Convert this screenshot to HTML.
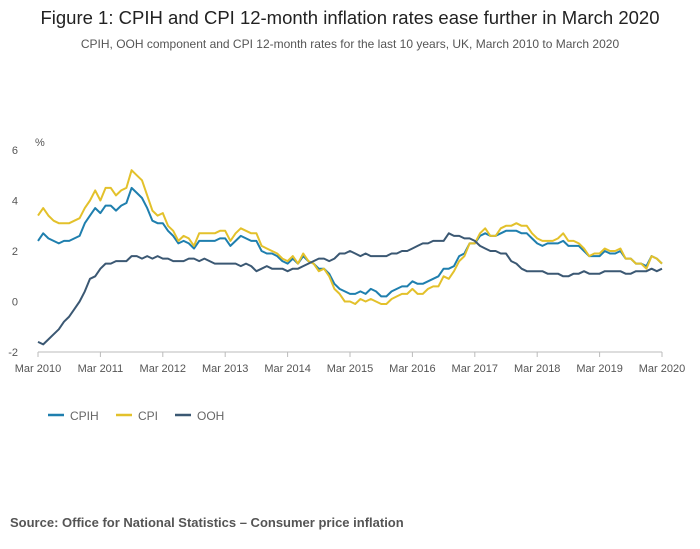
<!DOCTYPE html>
<html><head><meta charset="utf-8"><style>
body{margin:0;background:#fff;font-family:"Liberation Sans",sans-serif;}
#wrap{position:relative;width:700px;height:549px;overflow:hidden;}
</style></head><body>
<div id="wrap">
<svg id="chart" width="700" height="549">
<text x="350" y="24" text-anchor="middle" font-size="18.5" fill="#222">Figure 1: CPIH and CPI 12-month inflation rates ease further in March 2020</text>
<text x="350" y="48" text-anchor="middle" font-size="12" fill="#555">CPIH, OOH component and CPI 12-month rates for the last 10 years, UK, March 2010 to March 2020</text>
<text x="35" y="146" font-size="11" fill="#555">%</text>
<g id="axes"></g>
<g id="series"></g>
<g id="legend"></g>
<text x="10" y="527" font-size="13" font-weight="bold" fill="#555">Source: Office for National Statistics – Consumer price inflation</text>
</svg>
</div>
<script>
const xLabels=["Mar 2010","Mar 2011","Mar 2012","Mar 2013","Mar 2014","Mar 2015","Mar 2016","Mar 2017","Mar 2018","Mar 2019","Mar 2020"];
const yTicks=[-2,0,2,4,6];
const cpih=[2.4,2.7,2.5,2.4,2.3,2.4,2.4,2.5,2.6,3.1,3.4,3.7,3.5,3.8,3.8,3.6,3.8,3.9,4.5,4.3,4.1,3.7,3.2,3.1,3.1,2.8,2.6,2.3,2.4,2.3,2.1,2.4,2.4,2.4,2.4,2.5,2.5,2.2,2.4,2.6,2.5,2.4,2.4,2.0,1.9,1.9,1.8,1.6,1.5,1.7,1.5,1.8,1.6,1.5,1.3,1.3,1.1,0.7,0.5,0.4,0.3,0.3,0.4,0.3,0.5,0.4,0.2,0.2,0.4,0.5,0.6,0.6,0.8,0.7,0.7,0.8,0.9,1.0,1.3,1.3,1.4,1.8,1.9,2.3,2.3,2.6,2.7,2.6,2.6,2.7,2.8,2.8,2.8,2.7,2.7,2.5,2.3,2.2,2.3,2.3,2.3,2.4,2.2,2.2,2.2,2.0,1.8,1.8,1.8,2.0,1.9,1.9,2.0,1.7,1.7,1.5,1.5,1.4,1.8,1.7,1.5];
const cpi=[3.4,3.7,3.4,3.2,3.1,3.1,3.1,3.2,3.3,3.7,4.0,4.4,4.0,4.5,4.5,4.2,4.4,4.5,5.2,5.0,4.8,4.2,3.6,3.4,3.5,3.0,2.8,2.4,2.6,2.5,2.2,2.7,2.7,2.7,2.7,2.8,2.8,2.4,2.7,2.9,2.8,2.7,2.7,2.2,2.1,2.0,1.9,1.7,1.6,1.8,1.5,1.9,1.6,1.5,1.2,1.3,1.0,0.5,0.3,0.0,0.0,-0.1,0.1,0.0,0.1,0.0,-0.1,-0.1,0.1,0.2,0.3,0.3,0.5,0.3,0.3,0.5,0.6,0.6,1.0,0.9,1.2,1.6,1.8,2.3,2.3,2.7,2.9,2.6,2.6,2.9,3.0,3.0,3.1,3.0,3.0,2.7,2.5,2.4,2.4,2.4,2.5,2.7,2.4,2.4,2.3,2.1,1.8,1.9,1.9,2.1,2.0,2.0,2.1,1.7,1.7,1.5,1.5,1.3,1.8,1.7,1.5];
const ooh=[-1.6,-1.7,-1.5,-1.3,-1.1,-0.8,-0.6,-0.3,0.0,0.4,0.9,1.0,1.3,1.5,1.5,1.6,1.6,1.6,1.8,1.8,1.7,1.8,1.7,1.8,1.7,1.7,1.6,1.6,1.6,1.7,1.7,1.6,1.7,1.6,1.5,1.5,1.5,1.5,1.5,1.4,1.5,1.4,1.2,1.3,1.4,1.3,1.3,1.3,1.2,1.3,1.3,1.4,1.5,1.6,1.7,1.7,1.6,1.7,1.9,1.9,2.0,1.9,1.8,1.9,1.8,1.8,1.8,1.8,1.9,1.9,2.0,2.0,2.1,2.2,2.3,2.3,2.4,2.4,2.4,2.7,2.6,2.6,2.5,2.5,2.4,2.2,2.1,2.0,2.0,1.9,1.9,1.6,1.5,1.3,1.2,1.2,1.2,1.2,1.1,1.1,1.1,1.0,1.0,1.1,1.1,1.2,1.1,1.1,1.1,1.2,1.2,1.2,1.2,1.1,1.1,1.2,1.2,1.2,1.3,1.2,1.3];
const NS="http://www.w3.org/2000/svg";
const x0=38,x1=662,yTop=150,yBot=352,yMin=-2,yMax=6;
const xs=i=>x0+(x1-x0)*i/120;
const ys=v=>yBot-(v-yMin)*(yBot-yTop)/(yMax-yMin);
function mk(tag,attrs,parent){const e=document.createElementNS(NS,tag);for(const k in attrs)e.setAttribute(k,attrs[k]);parent.appendChild(e);return e;}
const axes=document.getElementById('axes');
yTicks.forEach(t=>{
  const tx=mk('text',{x:18,y:ys(t)+4,'text-anchor':'end','font-size':11,fill:'#555'},axes);
  tx.textContent=t;
  
  
});
const ax=mk('line',{x1:x0,x2:x1,y1:yBot,y2:yBot,stroke:'#bbb','stroke-width':1},axes);


xLabels.forEach((l,i)=>{
  const x=xs(i*12);
  const tk=mk('line',{x1:x,x2:x,y1:yBot,y2:yBot+5,stroke:'#bbb'},axes);
  
  
  const tx=mk('text',{x:x,y:yBot+20,'text-anchor':'middle','font-size':11,fill:'#555'},axes);
  tx.textContent=l;
  
  
});
const ser=document.getElementById('series');
const defs=[["CPIH",cpih,"#1f7fae"],["CPI",cpi,"#e3c12b"],["OOH",ooh,"#3b5873"]];
defs.forEach(([n,d,c])=>{
  const p=mk('polyline',{points:d.map((v,i)=>xs(i).toFixed(1)+','+ys(v).toFixed(1)).join(' '),fill:'none',stroke:c,'stroke-width':2,'stroke-linejoin':'round'},ser);
  
  
});
const lg=document.getElementById('legend');
const lx=[48,116,175];
defs.forEach(([n,d,c],i)=>{
  const l=mk('line',{x1:lx[i],x2:lx[i]+16,y1:415,y2:415,stroke:c,'stroke-width':2.5},lg);
  
  
  const t=mk('text',{x:lx[i]+22,y:420,'font-size':12,fill:'#666'},lg);
  t.textContent=n;
  
  
});
</script>
</body></html>
